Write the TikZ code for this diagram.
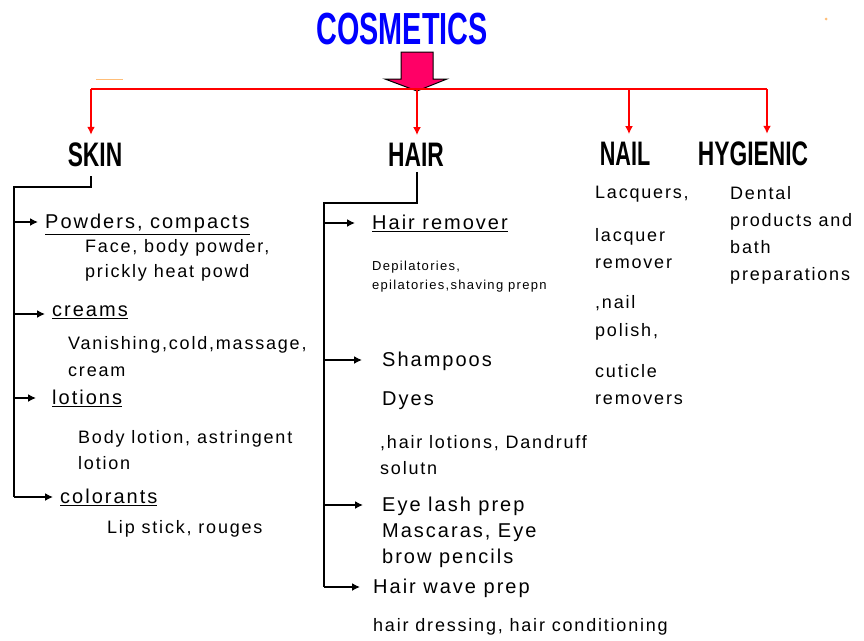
\documentclass[tikz,border=0pt]{standalone}
\usepackage{fontspec}
\setmainfont{Liberation Sans}
\newfontfamily\spacedfont[LetterSpace=10]{Liberation Sans}
\newcommand\cosTitle{\bfseries\fontsize{45}{45}\selectfont}
\newcommand\cosHead{\bfseries\fontsize{34}{34}\selectfont}
\newcommand\cosCat{\spacedfont\fontsize{20}{26}\selectfont}
\newcommand\cosItem{\spacedfont\fontsize{18}{26}\selectfont}
\newcommand\cosNote{\spacedfont\fontsize{13}{19}\selectfont}
\usetikzlibrary{arrows.meta, positioning}
\definecolor{titleblue}{RGB}{0,0,255}
\definecolor{arrowpink}{RGB}{255,0,102}
\definecolor{faintorange}{RGB}{255,190,120}

\begin{document}
\begin{tikzpicture}[x=1pt,y=-1pt]
  \tikzstyle{head}=[inner sep=0pt, font=\cosHead, xscale=0.67]
  \tikzstyle{cat}=[inner sep=0pt, anchor=north west, align=left, font=\cosCat]
  \tikzstyle{item}=[inner sep=0pt, anchor=north west, align=left, font=\cosItem]
  \tikzstyle{note}=[inner sep=0pt, anchor=north west, align=left, font=\cosNote]
  \tikzstyle{redline}=[draw=red, line width=2pt]
  \tikzstyle{conn}=[draw=black, line width=1.5pt]
  \tikzstyle{stub}=[conn, -{Latex[length=8pt,width=8pt]}]
  \useasboundingbox (0,0) rectangle (864,640);

  % title and the big arrow
  \node[inner sep=0pt, font=\cosTitle, text=titleblue, xscale=0.64] (title) at (402,29) {COSMETICS};
  \draw[fill=arrowpink, line width=1pt] (401,52) -- (433,52) -- (433,79) -- (447,79)
    -- (417,91) -- (385,79) -- (401,79) -- cycle;
  \draw[faintorange, line width=1pt] (96,79) -- (123,79);
  \fill[faintorange] (826,19) circle (1.5pt);

  % the four groups
  \node[head] (skin) at (95,155) {SKIN};
  \node[head] (hair) at (416,155) {HAIR};
  \node[head, xscale=0.95] (nail) at (625,154) {NAIL};
  \node[head] (hyg) at (753,154) {HYGIENIC};

  \coordinate (barskin) at (91,89);
  \coordinate (barhair) at (417,89);
  \coordinate (barnail) at (629,89);
  \coordinate (barhyg) at (767,89);
  \draw[redline] (barskin) -- (barhyg);
  \foreach \n in {skin,hair,nail,hyg}
    \draw[redline, -{Latex[length=8pt,width=8pt]}, shorten >=8pt] (bar\n) -- (bar\n |- \n.north);

  % skin
  \node[cat] (powders) at (45,214) {\underline{Powders, compacts}};
  \node[item] (powdersub) at (85,239) {Face, body powder,\\[-1pt]prickly heat powd};
  \node[cat] (creams) at (52,306) {\underline{creams}};
  \node[item] (creamsub) at (68,336) {Vanishing,cold,massage,\\[1pt]cream};
  \node[cat] (lotions) at (52,390) {\underline{lotions}};
  \node[item] (lotionsub) at (78,430) {Body lotion, astringent\\lotion};
  \node[cat] (colorants) at (60,489) {\underline{colorants}};
  \node[item] (colorantsub) at (107,520) {Lip stick, rouges};

  % hair
  \node[cat] (remover) at (372,215) {\underline{Hair remover}};
  \node[note] (removersub) at (372,261) {Depilatories,\\epilatories,shaving prepn};
  \node[cat] (shampoos) at (382,352) {Shampoos};
  \node[cat] (dyes) at (382,392) {Dyes};
  \node[item] (hairlotions) at (380,435) {,hair lotions, Dandruff\\solutn};
  \node[cat] (eyelash) at (382,497) {Eye lash prep\\Mascaras, Eye\\brow pencils};
  \node[cat] (wave) at (373,579) {Hair wave prep};
  \node[item] (wavesub) at (373,618) {hair dressing, hair conditioning};

  % nail
  \node[item] (lacquers) at (595,186) {Lacquers,};
  \node[item] (lacquer) at (595,228) {lacquer\\[1pt]remover};
  \node[item] (polish) at (595,295) {,nail\\[2pt]polish,};
  \node[item] (cuticle) at (595,364) {cuticle\\[1pt]removers};

  % hygienic
  \node[item] (dental) at (730,186) {Dental\\[1pt]products and\\[1pt]bath\\[1pt]preparations};

  % trunks and stubs
  \coordinate (skinknee) at (91,187);
  \coordinate (skintrunk) at (14,187);
  \coordinate (hairknee) at (417,203);
  \coordinate (hairtrunk) at (324,203);
  \foreach \n in {powders,creams,lotions,colorants,remover,shampoos,eyelash,wave}
    \coordinate (\n-in) at ([yshift=-8pt]\n.north west);
  \draw[conn, shorten <=9pt] (skinknee |- skin.south) -- (skinknee) -| (skintrunk |- colorants-in);
  \draw[conn, shorten <=5pt] (hairknee |- hair.south) -- (hairknee) -| (hairtrunk |- wave-in);
  \foreach \n/\g in {powders/7,creams/7,lotions/16,colorants/7}
    \draw[stub, shorten >=\g pt] (skintrunk |- \n-in) -- (\n-in);
  \foreach \n/\g in {remover/17,shampoos/20,eyelash/19,wave/13}
    \draw[stub, shorten >=\g pt] (hairtrunk |- \n-in) -- (\n-in);
\end{tikzpicture}
\end{document}
